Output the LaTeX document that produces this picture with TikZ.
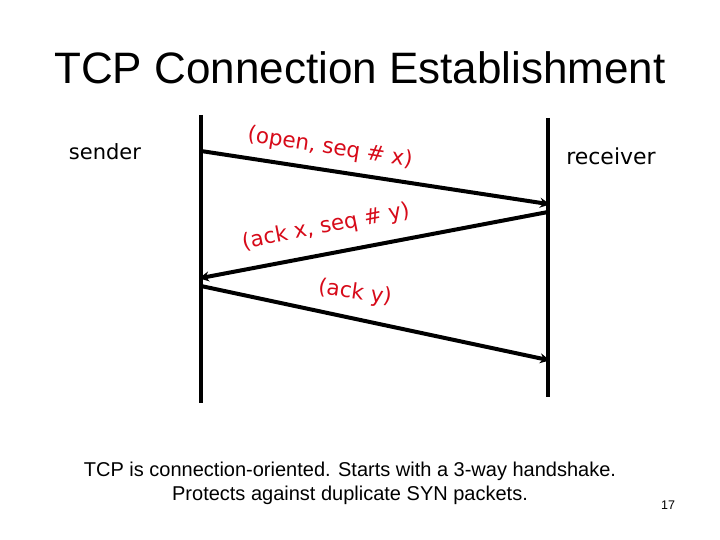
\documentclass[tikz,border=0pt]{standalone}
\usepackage{fontspec}
\setmainfont{Liberation Sans}
\newfontfamily\comic{DejaVu Sans}
\usetikzlibrary{arrows.meta}
\definecolor{lblred}{RGB}{215,10,25}
\begin{document}
\begin{tikzpicture}[x=1pt,y=-1pt,
  lifeline/.style={line width=4.3pt},
  msg/.style={line width=4pt,-{Stealth[length=10pt,width=10pt]},shorten >=-2pt},
  lbl/.style={text=lblred,font=\comic\fontsize{21.5}{24}\selectfont,inner sep=0pt},
  party/.style={font=\comic\fontsize{21}{24}\selectfont,inner sep=0pt}]
\useasboundingbox[fill=white] (0,0) rectangle (720,540);
\node[font=\fontsize{44}{50}\selectfont,inner sep=0pt] (title) at (360,68) {TCP Connection Establishment};
% lifelines
\coordinate (sT) at (201,115);
\coordinate (sB) at (201,403);
\coordinate (rT) at (548,118);
\coordinate (rB) at (548,397);
\draw[lifeline] (sT) -- (sB);
\draw[lifeline] (rT) -- (rB);
% message endpoints
\coordinate (m1a) at (201,151);
\coordinate (m1b) at (548,204);
\coordinate (m2a) at (548,212);
\coordinate (m2b) at (201,278);
\coordinate (m3a) at (201,286);
\coordinate (m3b) at (548,360);
\draw[msg] (m1a) -- (m1b);
\draw[msg] (m2a) -- (m2b);
\draw[msg] (m3a) -- (m3b);
\node[party] (sender) at (105,152) {sender};
\node[party,font=\comic\fontsize{22}{24}\selectfont] (receiver) at (611,156) {receiver};
\node[lbl,rotate=-9] (l1) at (330,148) {(open, seq \# x)};
\node[lbl,rotate=11] (l2) at (326,227) {(ack x, seq \# y)};
\node[lbl,rotate=-8] (l3) at (355,293) {(ack y)};
\node[font=\fontsize{20}{24}\selectfont,align=center,inner sep=0pt] (cap) at (350,483)
  {TCP is connection-oriented. Starts with a 3-way handshake.\\Protects against duplicate SYN packets.};
\node[font=\fontsize{12.5}{14}\selectfont,inner sep=0pt] (pg) at (668,505) {17};
\end{tikzpicture}
\end{document}
